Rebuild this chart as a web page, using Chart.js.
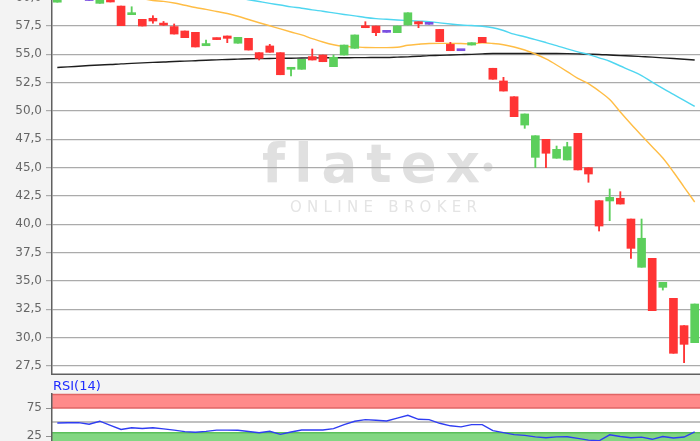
<!DOCTYPE html>
<html><head><meta charset="utf-8">
<script src="https://cdn.jsdelivr.net/npm/chart.js@4.4.0/dist/chart.umd.min.js"></script>
<style>
html,body{margin:0;padding:0;background:#f3f3f3;}
#wrap{position:relative;width:700px;height:441px;overflow:hidden;background:#f3f3f3;}
#main{position:absolute;left:0;top:-40px;}
#rsi{position:absolute;left:0;top:376px;}
</style></head><body>
<div id="wrap"><canvas id="main" width="700" height="415"></canvas><canvas id="rsi" width="700" height="74"></canvas></div>
<script>
const days = Array.from({length: 61}, (_, i) => 'T' + (i + 1));
const openP  = [59.6,60.4,61.0,59.75,59.5,60.4,59.26,58.5,58.09,58.18,57.75,57.45,57.06,56.94,55.76,56.35,56.62,55.98,56.41,55.15,55.74,55.15,53.68,53.68,54.8,54.94,53.91,54.94,55.53,57.5,57.5,56.94,56.91,57.59,57.88,57.65,57.2,55.88,55.32,55.82,56.5,53.77,52.65,51.26,48.76,45.91,47.5,45.83,45.68,48.03,45.0,42.09,42.06,42.3,40.47,36.21,37.0,34.44,33.47,31.06,29.56];
const highP  = [60.8,61.2,61.3,60.3,60.6,60.5,59.26,59.2,58.09,58.41,57.9,57.68,57.06,56.94,56.25,56.45,56.62,56.5,56.41,55.15,55.88,55.15,53.82,54.56,55.47,54.94,54.94,55.82,56.71,57.88,57.5,56.94,57.5,58.67,57.88,57.65,57.2,56.06,55.32,56.03,56.5,53.77,52.97,51.26,49.74,47.82,47.5,46.91,47.24,48.03,45.0,42.09,43.12,42.88,40.47,40.47,37.0,34.88,33.47,31.06,32.97];
const lowP   = [59.6,60.3,60.4,59.75,59.5,59.62,57.53,58.5,57.5,57.74,57.55,56.79,56.47,55.65,55.76,56.3,56.03,55.98,55.38,54.5,55.18,53.2,53.1,53.68,54.5,54.35,53.91,54.94,55.53,57.35,56.64,56.94,56.91,57.59,57.35,57.65,56.12,55.32,55.32,55.82,56.03,52.8,51.76,49.5,48.47,45.0,45.0,45.83,45.68,44.8,43.71,39.41,40.32,41.79,37.0,36.21,32.38,34.2,28.62,27.79,29.56];
const closeP = [60.5,61.0,60.5,59.75,60.3,59.62,57.53,58.6,57.5,57.94,57.58,56.79,56.47,55.65,55.95,56.3,56.41,56.5,55.38,54.65,55.18,53.2,53.82,54.56,54.5,54.35,54.74,55.82,56.71,57.35,56.91,56.94,57.5,58.67,57.68,57.65,56.12,55.32,55.32,56.03,56.03,52.8,51.76,49.5,49.74,47.82,46.27,46.62,46.85,44.8,44.44,39.85,42.38,41.79,37.88,38.77,32.38,34.88,28.62,29.41,32.97];
const maYellow = [61.2,61.06,60.9,60.74,60.57,60.41,60.24,60.08,59.92,59.75,59.67,59.53,59.33,59.13,58.97,58.78,58.6,58.36,58.07,57.79,57.52,57.24,56.97,56.71,56.39,56.09,55.85,55.71,55.66,55.6,55.59,55.59,55.62,55.8,55.89,55.96,55.97,55.97,55.95,55.92,56.02,55.96,55.85,55.65,55.38,55.03,54.59,54.06,53.48,52.87,52.42,51.76,51.01,49.91,48.85,47.84,46.85,45.85,44.62,43.29,41.97];
const maCyan = [62.64,62.48,62.32,62.17,62.01,61.85,61.69,61.54,61.38,61.22,61.07,60.91,60.75,60.6,60.45,60.29,60.13,59.98,59.82,59.66,59.5,59.35,59.19,59.07,58.92,58.8,58.66,58.52,58.39,58.25,58.15,58.09,58.03,57.98,57.93,57.89,57.78,57.68,57.59,57.54,57.48,57.35,57.1,56.78,56.55,56.3,56.04,55.77,55.48,55.22,54.99,54.69,54.39,53.97,53.56,53.13,52.55,51.99,51.46,50.93,50.4];
const maBlack = [53.84,53.89,53.95,54.01,54.06,54.1,54.16,54.2,54.25,54.29,54.32,54.37,54.4,54.44,54.48,54.51,54.55,54.58,54.61,54.62,54.63,54.65,54.66,54.68,54.69,54.69,54.7,54.7,54.71,54.71,54.72,54.72,54.75,54.78,54.83,54.89,54.91,54.94,54.97,55.0,55.04,55.07,55.07,55.07,55.07,55.07,55.07,55.07,55.06,55.04,55.01,54.99,54.94,54.89,54.85,54.8,54.75,54.69,54.63,54.57,54.5];
const rsi14 = [48.2,48.6,48.9,45.9,51.4,44.1,36.6,39.8,38.4,39.8,37.7,35.5,32.9,31.6,33.2,35.5,35.5,35.2,33,30.7,33.4,28,32.1,35.7,35.7,35.7,38.2,45.4,51.3,54.3,53,51.8,56.8,62,54.8,54.3,47.7,43.2,41.3,45.4,45.4,34.6,31.1,27.5,26.1,23.4,21.8,23.4,23.6,20.7,17.7,16.4,27.1,24.1,21.8,23,19.1,24.1,21.4,23.2,32.5];
const priceTicks = [27.5,30,32.5,35,37.5,40,42.5,45,47.5,50,52.5,55,57.5,60,62.5];
const rsiTicks = [25,75];
const rsiOverbought = 75, rsiMid = 50, rsiOversold = 31;

const UP = '#5ccf5c', DOWN = '#ff3434', FLAT = '#7a4fe0';
const candleColor = openP.map((o, i) => closeP[i] > o ? UP : (closeP[i] < o ? DOWN : FLAT));
const tickFont = {family: 'DejaVu Sans', size: 12};
const tickColor = '#666666';

function spaced(ctx, text, x, y, targetW) {
  ctx.letterSpacing = '0px';
  const w = ctx.measureText(text).width;
  const sp = (targetW - w) / (text.length - 1);
  ctx.letterSpacing = sp + 'px';
  ctx.fillText(text, x, y);
  ctx.letterSpacing = '0px';
}

const mainDeco = {
  id: 'mainDeco',
  beforeDraw(chart) {
    const {ctx, chartArea: a} = chart;
    ctx.save();
    ctx.fillStyle = '#ffffff';
    ctx.fillRect(a.left, a.top, a.right - a.left, a.bottom - a.top);
    ctx.fillStyle = '#e0e0e0';
    ctx.textBaseline = 'alphabetic';
    ctx.textAlign = 'left';
    ctx.font = 'bold 53px "DejaVu Sans"';
    spaced(ctx, 'flatex', 262, 222, 216);
    ctx.beginPath(); ctx.arc(488, 207, 4.5, 0, Math.PI * 2); ctx.fill();
    ctx.fillStyle = '#e4e4e4';
    ctx.font = '15px "DejaVu Sans"';
    spaced(ctx, 'ONLINE BROKER', 290, 252, 187);
    ctx.restore();
  },
  afterDraw(chart) {
    const {ctx, chartArea: a} = chart;
    ctx.save();
    ctx.strokeStyle = '#606060'; ctx.lineWidth = 1.5;
    ctx.beginPath(); ctx.moveTo(a.left, a.bottom - 0.75); ctx.lineTo(a.right, a.bottom - 0.75); ctx.stroke();
    ctx.restore();
  }
};

new Chart(document.getElementById('main'), {
  type: 'bar',
  data: {
    labels: days,
    datasets: [
      {type: 'bar', label: 'Body', data: openP.map((o, i) => [o, closeP[i]]), backgroundColor: candleColor, borderWidth: 0, barThickness: 8, grouped: false, minBarLength: 2, order: 0},
      {type: 'bar', label: 'Wick', data: lowP.map((l, i) => [l, highP[i]]), backgroundColor: candleColor, borderWidth: 0, barThickness: 1.2, grouped: false, order: 1},
      {type: 'line', label: 'MA kurz', data: maYellow, borderColor: '#ffbd45', borderWidth: 1.4, pointRadius: 0, cubicInterpolationMode: 'monotone', order: 2},
      {type: 'line', label: 'MA mittel', data: maCyan, borderColor: '#4fd6f0', borderWidth: 1.4, pointRadius: 0, cubicInterpolationMode: 'monotone', order: 3},
      {type: 'line', label: 'MA lang', data: maBlack, borderColor: '#1e1e1e', borderWidth: 1.4, pointRadius: 0, cubicInterpolationMode: 'monotone', order: 4}
    ]
  },
  options: {
    responsive: false, animation: false,
    layout: {padding: 0},
    plugins: {legend: {display: false}, tooltip: {enabled: false}},
    scales: {
      x: {display: false, offset: true},
      y: {
        min: 26.705, max: 63.324,
        afterBuildTicks: s => { s.ticks = priceTicks.map(v => ({value: v})); },
        afterFit: s => { s.width = 52; s.paddingTop = 0; s.paddingBottom = 0; },
        ticks: {callback: v => Number(v).toFixed(1).replace('.', ','), color: tickColor, font: tickFont, padding: 4},
        grid: {color: '#ababab', lineWidth: 1.2, tickLength: 6, drawTicks: true},
        border: {display: true, color: '#606060', width: 1.5}
      }
    }
  },
  plugins: [mainDeco]
});

const rsiDeco = {
  id: 'rsiDeco',
  beforeDraw(chart) {
    const {ctx, chartArea: a} = chart;
    const y = chart.scales.y;
    const w = a.right - a.left;
    ctx.save();
    ctx.fillStyle = '#ffffff';
    ctx.fillRect(a.left, a.top, w, a.bottom - a.top);
    const y100 = y.getPixelForValue(100), y75 = y.getPixelForValue(rsiOverbought);
    const y50 = y.getPixelForValue(rsiMid), y30 = y.getPixelForValue(rsiOversold), y0 = y.getPixelForValue(0);
    ctx.fillStyle = '#ff8a8a';
    ctx.fillRect(a.left, y100, w, y75 - y100);
    ctx.fillStyle = '#82d682';
    ctx.fillRect(a.left, y30, w, y0 - y30);
    ctx.lineWidth = 1.5;
    ctx.strokeStyle = '#e06464';
    ctx.beginPath(); ctx.moveTo(a.left, y75); ctx.lineTo(a.right, y75); ctx.stroke();
    ctx.beginPath(); ctx.moveTo(a.left, y100 + 0.5); ctx.lineTo(a.right, y100 + 0.5); ctx.stroke();
    ctx.strokeStyle = '#5bbf5b';
    ctx.beginPath(); ctx.moveTo(a.left, y30); ctx.lineTo(a.right, y30); ctx.stroke();
    ctx.strokeStyle = '#ababab';
    ctx.beginPath(); ctx.moveTo(a.left, y50); ctx.lineTo(a.right, y50); ctx.stroke();
    ctx.restore();
  },
  afterDraw(chart) {
    const {ctx} = chart;
    ctx.save();
    ctx.fillStyle = '#1f2cff';
    ctx.font = '13px "DejaVu Sans"';
    ctx.textBaseline = 'alphabetic';
    ctx.fillText('RSI(14)', 53, 14);
    ctx.restore();
  }
};

new Chart(document.getElementById('rsi'), {
  type: 'line',
  data: {
    labels: days,
    datasets: [{label: 'RSI(14)', data: rsi14, borderColor: '#2f3df2', borderWidth: 1.4, pointRadius: 0, tension: 0}]
  },
  options: {
    responsive: false, animation: false,
    layout: {padding: {top: 18, left: 0, right: 0, bottom: 0}},
    plugins: {legend: {display: false}, tooltip: {enabled: false}},
    scales: {
      x: {display: false, offset: true},
      y: {
        min: 0, max: 100,
        afterBuildTicks: s => { s.ticks = rsiTicks.map(v => ({value: v})); },
        afterFit: s => { s.width = 52; s.paddingTop = 0; s.paddingBottom = 0; },
        ticks: {color: tickColor, font: tickFont, padding: 4},
        grid: {drawOnChartArea: false, drawTicks: true, tickLength: 6, color: '#909090'},
        border: {display: true, color: '#606060', width: 1.5}
      }
    }
  },
  plugins: [rsiDeco]
});
</script>
</body></html>
